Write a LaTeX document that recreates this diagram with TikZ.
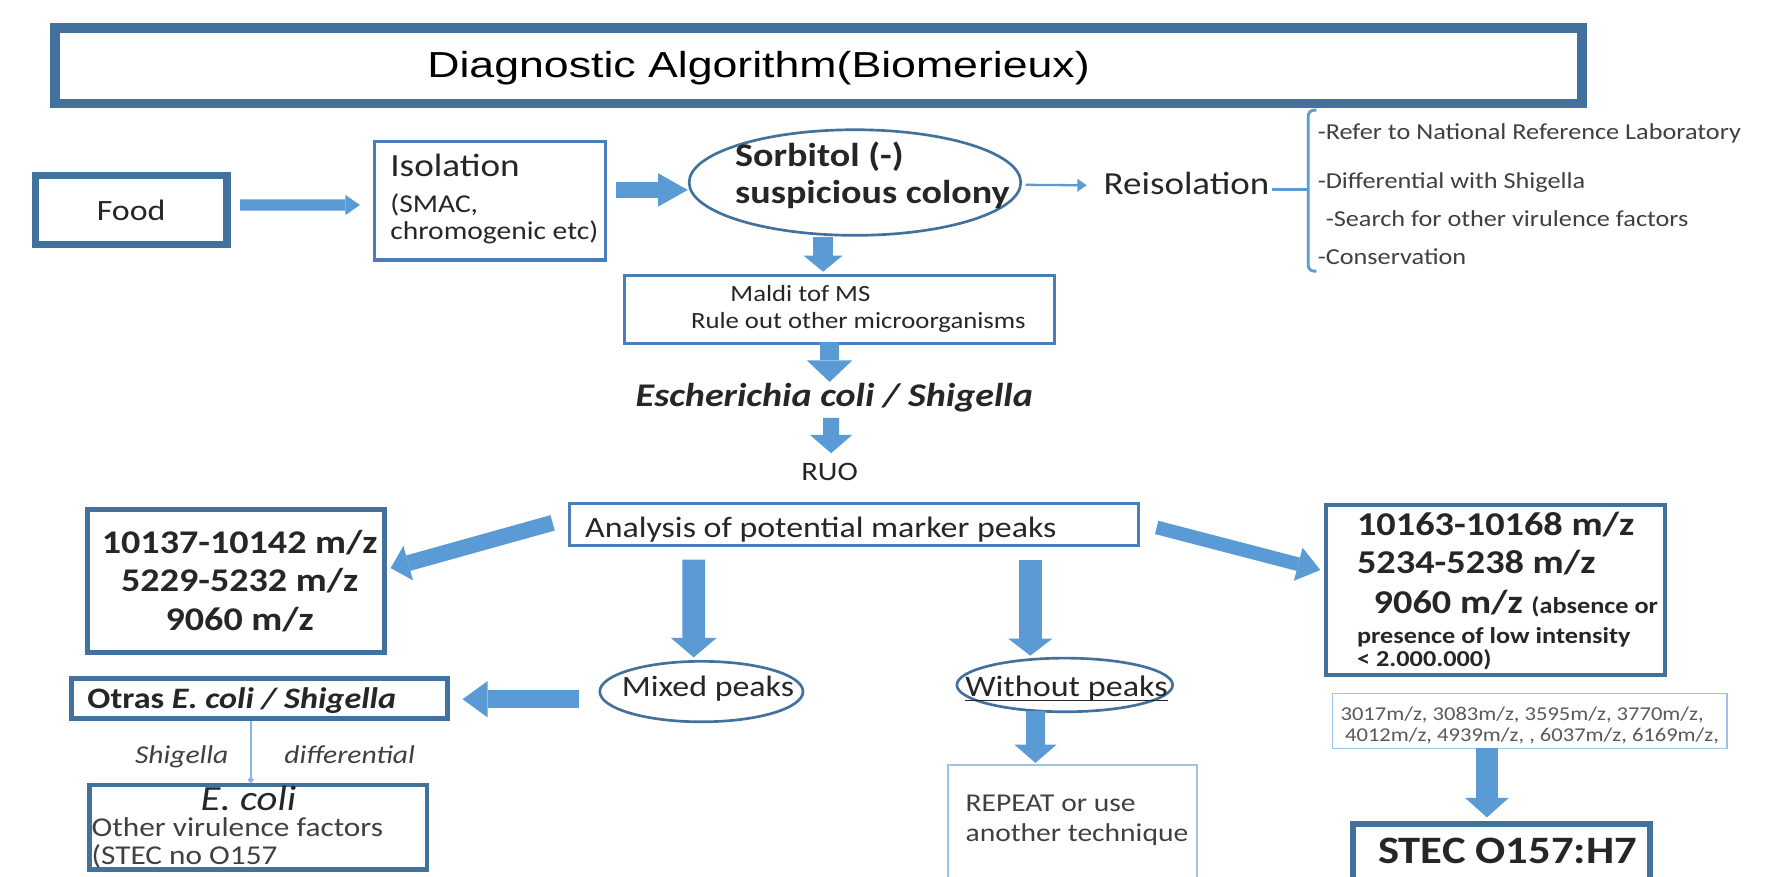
\documentclass[tikz,border=0pt]{standalone}
\usepackage{fontspec}
\setmainfont{Carlito}[FakeStretch=1.15]
\newfontfamily\titlefont{Liberation Sans}[FakeStretch=1.235]
\usetikzlibrary{arrows.meta,calc,shapes.geometric}
\newcommand{\setfs}[1]{\fontsize{#1}{#1}\selectfont}
\newcommand{\ulinetext}[1]{\setbox0\hbox{#1}\rlap{\rule[-2.5pt]{\wd0}{0.7pt}}\box0}
\definecolor{dblue}{HTML}{41719C}
\definecolor{mblue}{HTML}{4A7EBB}
\definecolor{ablue}{HTML}{5B9BD5}
\definecolor{lblue}{HTML}{9DC3E6}
\definecolor{lineblue}{HTML}{8DB4E2}
\definecolor{tcol}{HTML}{262626}
\definecolor{gcol}{HTML}{404040}
\definecolor{gcoltwo}{HTML}{595959}
\begin{document}
\begin{tikzpicture}[x=0.6pt,y=-0.6pt,
  rbox/.style={rectangle, inner sep=0pt},
  oval/.style={ellipse, inner sep=0pt},
  txt/.style={inner sep=0pt, anchor=base west, text=tcol},
  ctxt/.style={inner sep=0pt, anchor=base, text=tcol},
  barrow/.style n args={3}{draw=ablue, line width=#1, -{Triangle[width=#2,length=#3,line width=0pt]}}]
\path[use as bounding box] (0,0) rectangle (1568,768);
\fill[white] (0,0) rectangle (1568,768);
\clip (0,0) rectangle (1568,768);

% title
\node[rbox, draw=dblue, line width=5.2pt, minimum width=802.4pt, minimum height=39.8pt] (title) at (717,57.5) {};
\node[txt, font=\titlefont\setfs{19}, text=black] (titletext) at (374,68) {Diagnostic Algorithm(Biomerieux)};

% food
\node[rbox, draw=dblue, line width=3.9pt, minimum width=100.6pt, minimum height=36.4pt, font=\setfs{15.5}, text=tcol] (food) at (114.9,184) {Food};

% isolation
\node[rbox, draw=mblue, line width=1.8pt, minimum width=121.5pt, minimum height=62.2pt] (iso) at (429.2,175.9) {};
\node[txt, font=\setfs{17}] (iso1) at (341.6,154.2) {Isolation};
\node[txt, font=\setfs{13.5}] (iso2) at (341.6,186) {(SMAC,};
\node[txt, font=\setfs{13.5}] (iso3) at (341.6,210) {chromogenic etc)};

% sorbitol
\node[oval, draw=dblue, line width=1.4pt, minimum width=174.3pt, minimum height=55.5pt] (sorb) at (748.9,159.9) {};
\node[txt, font=\bfseries\setfs{17.4}] (sorb1) at (643.7,146) {Sorbitol (-)};
\node[txt, font=\bfseries\setfs{17.4}] (sorb2) at (643.7,178) {suspicious colony};

% reisolation and list
\node[txt, font=\setfs{16.9}] (reis) at (966.5,170.8) {Reisolation};
\coordinate (brk) at (1146,165.8);
\node[txt, font=\setfs{12}, text=gcol] (ref1) at (1154,122.6) {-Refer to National Reference Laboratory};
\node[txt, font=\setfs{12}, text=gcol] (ref2) at (1154,165) {-Differential with Shigella};
\node[txt, font=\setfs{12}, text=gcol] (ref3) at (1161,198.5) {-Search for other virulence factors};
\node[txt, font=\setfs{12}, text=gcol] (ref4) at (1154,232) {-Conservation};

% maldi
\node[rbox, draw=mblue, line width=1.5pt, minimum width=226pt, minimum height=35.8pt] (maldi) at (735.4,271.1) {};
\node[txt, font=\setfs{12.2}] (maldi1) at (639.5,264.3) {Maldi tof MS};
\node[txt, font=\setfs{12.2}] (maldi2) at (605,287.6) {Rule out other microorganisms};

% E. coli / Shigella, RUO
\node[ctxt, font=\bfseries\itshape\setfs{17.4}] (ecoli) at (730.8,356.2) {Escherichia coli / Shigella};
\node[ctxt, font=\setfs{14}] (ruo) at (726.7,420.5) {RUO};

% analysis
\node[rbox, draw=mblue, line width=1.5pt, minimum width=299pt, minimum height=22pt] (anal) at (748,459.2) {};
\node[txt, font=\setfs{15.5}] (anal1) at (512.3,470.7) {Analysis of potential marker peaks};

% left m/z box
\node[rbox, draw=dblue, line width=2.6pt, minimum width=155.9pt, minimum height=75.4pt] (lmz) at (206.6,508.8) {};
\node[ctxt, font=\bfseries\setfs{17.4}] (lmz1) at (210,484.7) {10137-10142 m/z};
\node[ctxt, font=\bfseries\setfs{17.4}] (lmz2) at (210,518.3) {5229-5232 m/z};
\node[ctxt, font=\bfseries\setfs{17.4}] (lmz3) at (210,551.9) {9060 m/z};

% right m/z box
\node[rbox, draw=dblue, line width=2.1pt, minimum width=177.9pt, minimum height=89.1pt] (rmz) at (1310,517) {};
\node[txt, font=\bfseries\setfs{17.5}] (rmz1) at (1188.4,469.5) {10163-10168 m/z};
\node[txt, font=\bfseries\setfs{17.5}] (rmz2) at (1188.4,502.2) {5234-5238 m/z};
\node[txt, font=\bfseries\setfs{17.5}] (rmz3) at (1203,537.3) {9060 m/z {\setfs{12}(absence or}};
\node[txt, font=\bfseries\setfs{12}] (rmz4) at (1188.4,563.5) {presence of low intensity};
\node[txt, font=\bfseries\setfs{12}] (rmz5) at (1188.4,584) {< 2.000.000)};

% small m/z box
\node[rbox, draw=lblue, line width=0.8pt, minimum width=207.2pt, minimum height=28.8pt] (smz) at (1340,631.5) {};
\node[txt, font=\setfs{10.3}, text=gcoltwo] (smz1) at (1174,631.3) {3017m/z, 3083m/z, 3595m/z, 3770m/z,};
\node[txt, font=\setfs{10.3}, text=gcoltwo] (smz2) at (1178,649.7) {4012m/z, 4939m/z, , 6037m/z, 6169m/z,};

% STEC
\node[rbox, draw=dblue, line width=3pt, minimum width=156.3pt, minimum height=72pt] (stec) at (1315.3,781.5) {};
\node[ctxt, font=\bfseries\setfs{20.4}] (stec1) at (1320.5,756.3) {STEC O157:H7};

% mixed / without
\node[oval, draw=dblue, line width=1.4pt, minimum width=106.8pt, minimum height=31.8pt] (mixed) at (614.4,605.8) {};
\node[ctxt, font=\setfs{15.5}] (mixed1) at (620.2,610.3) {Mixed peaks};
\node[oval, draw=dblue, line width=1.4pt, minimum width=113.4pt, minimum height=28.2pt] (without) at (932.7,600) {};
\node[ctxt, font=\setfs{15.6}] (without1) at (934.2,610.3) {\ulinetext{Without peaks}};

% otras
\node[rbox, draw=dblue, line width=2.7pt, minimum width=197.6pt, minimum height=20.8pt] (otras) at (227,611.7) {};
\node[txt, font=\bfseries\setfs{15.6}] (otras1) at (76.3,620.5) {Otras \textit{E. coli / Shigella}};
\node[txt, font=\itshape\setfs{13.5}, text=gcol] (shig) at (118,668.7) {Shigella};
\node[txt, font=\itshape\setfs{13.5}, text=gcol] (diff) at (248.8,668.7) {differential};

% E. coli box
\node[rbox, draw=dblue, line width=2.4pt, minimum width=177.4pt, minimum height=44.4pt] (ecolibox) at (226.1,724.6) {};
\node[txt, font=\itshape\setfs{18.6}] (ecoli2) at (175.5,710) {E. coli};
\node[txt, font=\setfs{14.3}, text=gcol] (vir1) at (80,732.5) {Other virulence factors};
\node[txt, font=\setfs{14.3}, text=gcol] (vir2) at (80,757) {(STEC no O157};

% repeat
\node[rbox, draw=lblue, line width=0.9pt, minimum width=130.6pt, minimum height=90pt] (repeat) at (939.5,745) {};
\node[txt, font=\setfs{13.5}, text=gcol] (rep1) at (845.5,711) {REPEAT or use};
\node[txt, font=\setfs{13.5}, text=gcol] (rep2) at (845.5,737.5) {another technique};

% connectors
\draw[barrow={6pt}{10.5pt}{7.6pt}] ($(food.east)+(8.45,-4.4)$) -- ($(iso.west)+(-11.15,3.7)$);
\draw[barrow={8.8pt}{17.5pt}{15.6pt}] ($(iso.east)+(7.5,-9.5)$) -- ($(sorb.west)+(0,6.5)$);
\draw[ablue, line width=1.2pt, -{Triangle[width=6.5pt,length=5pt]}] ($(sorb.east)+(3,2)$) -- ($(reis.west)+(-14.5,1.2)$);
\draw[ablue, line width=1.5pt] ($(reis.base east)+(2,-5)$) -- (brk);
\draw[ablue, line width=1.5pt, rounded corners=3] (1153,96.5) -- (1146,96.5) -- (brk) -- (1146,237.5) -- (1153,237.5);
\draw[barrow={10.2pt}{20.4pt}{8.4pt}] ($(sorb.south)+(-27.9,0)$) -- ($(maldi.north)+(-14.4,-2)$);
\draw[barrow={9.6pt}{24pt}{11.4pt}] ($(maldi.south)+(-8.7,-3)$) -- ($(ecoli.base)+(-4.1,-21.6)$);
\draw[barrow={8.4pt}{22.2pt}{9.6pt}] ($(ecoli.base)+(-2.8,9.8)$) -- ($(ruo.base)+(1.3,-23.5)$);
\draw[barrow={8.4pt}{18.8pt}{9.6pt}] ($(anal.west)+(-13.5,-1.2)$) -- ($(lmz.east)+(3.5,-11.2)$);
\draw[barrow={7.2pt}{18pt}{12pt}] ($(anal.east)+(14.8,2.8)$) -- ($(rmz.west)+(-3.45,-17.7)$);
\draw[barrow={12pt}{24pt}{10.2pt}] ($(anal.south)+(-140.3,11.5)$) -- ($(mixed.north)+(-6.7,-2.3)$);
\draw[barrow={12pt}{23.4pt}{9pt}] ($(anal.south)+(154.5,11.5)$) -- ($(without.north)+(-30.2,-1)$);
\draw[barrow={9.6pt}{19.2pt}{13.2pt}] ($(mixed.west)+(-17.4,6.7)$) -- ($(otras.east)+(11.3,0.8)$);
\draw[barrow={10.2pt}{22.2pt}{9.6pt}] ($(without.south)+(-25.7,-1.5)$) -- ($(repeat.north)+(-32.5,-1)$);
\draw[barrow={12pt}{22.8pt}{10.2pt}] ($(smz.south)+(-37.5,-1)$) -- ($(stec.north)+(-12.8,-3)$);
\draw[lineblue, line width=1pt, -{Circle[length=3pt]}] ($(otras.south)+(-7.3,0)$) -- ($(ecolibox.north)+(-6.4,0)$);
\end{tikzpicture}
\end{document}
